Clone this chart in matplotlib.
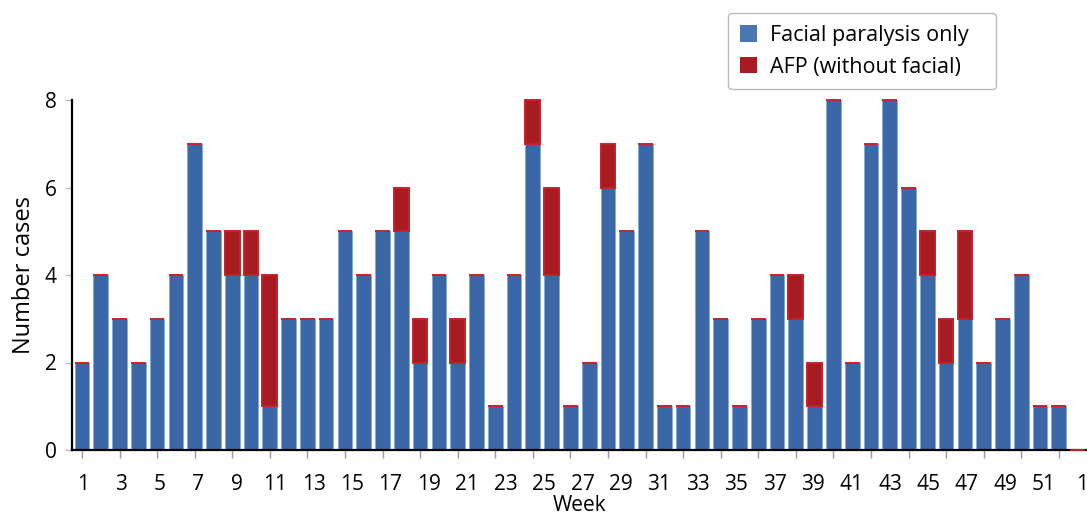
import matplotlib
matplotlib.use("Agg")
import matplotlib.pyplot as plt
from matplotlib.patches import Patch
import numpy as np

plt.rcParams['font.family'] = ['Open Sans', 'DejaVu Sans']

weeks = list(range(1, 55))
facial = [2, 4, 3, 2, 3, 4, 7, 5, 4, 4,
          1, 3, 3, 3, 5, 4, 5, 5, 2, 4,
          2, 4, 1, 4, 7, 4, 1, 2, 6, 5,
          7, 1, 1, 5, 3, 1, 3, 4, 3, 1,
          8, 2, 7, 8, 6, 4, 2, 3, 2, 3,
          4, 1, 1, 0]
afp = [0, 0, 0, 0, 0, 0, 0, 0, 1, 1,
       3, 0, 0, 0, 0, 0, 0, 1, 1, 0,
       1, 0, 0, 0, 1, 2, 0, 0, 1, 0,
       0, 0, 0, 0, 0, 0, 0, 0, 1, 1,
       0, 0, 0, 0, 0, 1, 1, 2, 0, 0,
       0, 0, 0, 0]
tick_labels = ['1', '3', '5', '7', '9', '11', '13', '15', '17', '19', '21', '23', '25',
               '27', '29', '31', '33', '35', '37', '39', '41', '43', '45', '47', '49', '51', '1']
y_ticks = [0, 2, 4, 6, 8]

blue = '#3B67A6'
blue_edge = '#7FA8D8'
red = '#A61C22'
red_edge = '#C8202A'

fig = plt.figure(figsize=(10.87, 5.15), dpi=100)
ax = fig.add_axes([72/1087, 1-450/515, 1-72/1087, 350/515])

x = np.array(weeks)
ax.bar(x, facial, width=0.78, color=blue, edgecolor=blue_edge, linewidth=0.6, zorder=2)
ax.bar(x, afp, width=0.78, bottom=facial, color=red, edgecolor=red_edge, linewidth=1.4,
       zorder=6, clip_on=False)

ax.set_xlim(0.47, 54.5)
ax.set_ylim(0, 8)

# tick marks at odd bars (minor), labels slightly drifting (major, no marks)
ax.set_xticks(x[::2], minor=True)
ax.tick_params(axis='x', which='minor', length=6, width=1, color='#999999', direction='out')
label_pos = [1.05 + 2.046 * k for k in range(len(tick_labels))]
ax.set_xticks(label_pos)
ax.set_xticklabels(tick_labels, fontsize=15)
ax.tick_params(axis='x', which='major', length=0, pad=17)

ax.set_yticks(y_ticks)
ax.set_yticklabels([str(v) for v in y_ticks], fontsize=15)
ax.tick_params(axis='y', length=5, width=1, color='#bbbbbb', pad=6)

for s in ['top', 'right']:
    ax.spines[s].set_visible(False)
ax.spines['left'].set_linewidth(1.6)
ax.spines['bottom'].set_linewidth(1.6)
ax.spines['left'].set_zorder(5)
ax.spines['bottom'].set_zorder(5)

ax.set_ylabel('Number cases', fontsize=17, labelpad=6)
ax.set_xlabel('Week', fontsize=15, labelpad=0)

handles = [Patch(facecolor='#4A76B2', edgecolor='none', label='Facial paralysis only'),
           Patch(facecolor=red, edgecolor='none', label='AFP (without facial)')]
leg = fig.legend(handles=handles, loc='upper left',
                 bbox_to_anchor=(728/1087, 1-13/515, 268/1087, 0.0), mode='expand',
                 fontsize=15.5, frameon=True, fancybox=True, edgecolor='#aaaaaa',
                 handlelength=0.8, handleheight=0.8, handletextpad=0.6,
                 borderpad=0.55, labelspacing=0.5, borderaxespad=0)
leg.get_frame().set_linewidth(1.0)

fig.savefig('out.png', dpi=100)
